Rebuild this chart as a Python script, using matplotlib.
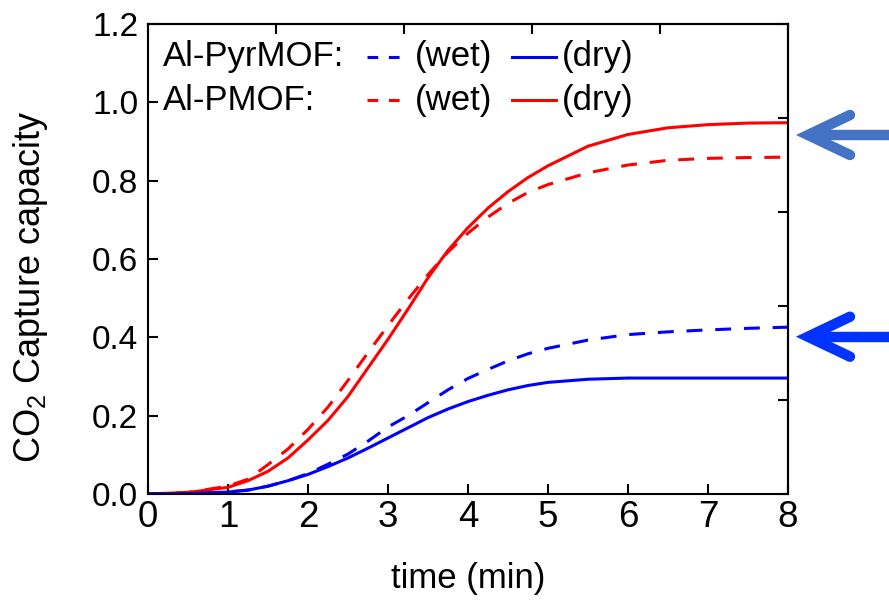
import numpy as np
import matplotlib
matplotlib.use('Agg')
import matplotlib.pyplot as plt
from matplotlib.lines import Line2D

plt.rcParams['font.family'] = ['Liberation Sans', 'DejaVu Sans']
plt.rcParams['mathtext.fontset'] = 'custom'
plt.rcParams['mathtext.rm'] = 'Liberation Sans'

# tempo (min)
t = [0.0, 0.5, 1.0, 1.25, 1.5, 1.75, 2.0, 2.25, 2.5, 2.75, 3.0, 3.25, 3.5,
     3.75, 4.0, 4.25, 4.5, 4.75, 5.0, 5.5, 6.0, 6.5, 7.0, 7.5, 8.0]

# capacidade de captura de CO2
pmof_dry = [0.0, 0.004, 0.017, 0.034, 0.058, 0.092, 0.138, 0.188, 0.249, 0.322,
            0.395, 0.472, 0.552, 0.622, 0.68, 0.73, 0.772, 0.808, 0.838, 0.888,
            0.918, 0.935, 0.943, 0.947, 0.948]
pmof_wet = [0.0, 0.004, 0.02, 0.038, 0.075, 0.115, 0.165, 0.222, 0.29, 0.361,
            0.43, 0.497, 0.56, 0.618, 0.666, 0.707, 0.742, 0.77, 0.79, 0.82,
            0.84, 0.852, 0.857, 0.859, 0.86]
pyr_dry = [0.0, 0.001, 0.005, 0.01, 0.02, 0.034, 0.05, 0.07, 0.092, 0.117,
           0.143, 0.169, 0.195, 0.217, 0.236, 0.252, 0.266, 0.277, 0.285, 0.293,
           0.296, 0.296, 0.296, 0.296, 0.296]
pyr_wet = [0.0, 0.001, 0.005, 0.01, 0.02, 0.034, 0.052, 0.076, 0.102, 0.135,
           0.171, 0.2, 0.233, 0.266, 0.295, 0.318, 0.34, 0.358, 0.372, 0.393,
           0.407, 0.414, 0.419, 0.423, 0.426]

azul = '#0000ff'
verm = '#ff0000'

fig = plt.figure(figsize=(8.89, 6.03), dpi=100)
ax = fig.add_axes([148/889, 1 - 494/603, 640/889, 470/603])

lw = 2.2
traco = (5.2, 4.2)
ax.plot(t, pmof_dry, color=verm, lw=lw)
ax.plot(t, pmof_wet, color=verm, lw=lw, dashes=traco)
ax.plot(t, pyr_dry, color=azul, lw=lw)
ax.plot(t, pyr_wet, color=azul, lw=lw, dashes=traco)

ax.set_xlim(0, 8)
ax.set_ylim(0, 1.2)
ax.set_xticks(np.arange(0, 9, 1))
ax.set_yticks(np.arange(0, 1.21, 0.2))
ax.set_yticklabels(['%.1f' % v for v in np.arange(0, 1.21, 0.2)])
ax.tick_params(direction='in', length=7, width=1.5)
ax.tick_params(axis='x', labelsize=26.5, pad=4)
ax.tick_params(axis='y', labelsize=24, pad=7)
for s in ax.spines.values():
    s.set_linewidth(1.5)

# eixos de cima e da direita com divisoes proprias
topo = ax.secondary_xaxis('top')
topo.set_xticks(np.arange(0, 8.01, 1.6))
topo.tick_params(direction='in', length=7, width=1.5, labeltop=False)
topo.spines['top'].set_linewidth(1.5)
dire = ax.secondary_yaxis('right')
dire.set_yticks(np.arange(0, 1.201, 0.24))
dire.tick_params(direction='in', length=7, width=1.5, labelright=False)
dire.spines['right'].set_linewidth(1.5)

ax.set_xlabel('time (min)', fontsize=25, labelpad=20)
ax.set_ylabel(r'CO$_\mathregular{2}$ Capture capacity', fontsize=26)
ax.yaxis.set_label_coords(-0.153, 0.44)

# legenda montada a mao
linhas = [('Al-PyrMOF:', azul, 0.930), ('Al-PMOF:', verm, 0.838)]
for nome, cor, yy in linhas:
    ax.text(0.0234, yy, nome, transform=ax.transAxes, fontsize=25, va='center')
    ax.add_line(Line2D([0.342, 0.394], [yy, yy], transform=ax.transAxes,
                       color=cor, lw=lw, dashes=(3.5, 3.5)))
    ax.text(0.417, yy, '(wet)', transform=ax.transAxes, fontsize=25, va='center')
    ax.add_line(Line2D([0.569, 0.6375], [yy, yy], transform=ax.transAxes,
                       color=cor, lw=lw))
    ax.text(0.647, yy, '(dry)', transform=ax.transAxes, fontsize=25, va='center')


# setas do lado direito
def seta(y_px, cor):
    W, H = 889, 603
    xp = 808
    yp = 1 - y_px / H
    fig.add_artist(Line2D([xp / W, 900 / W], [yp, yp], color=cor, lw=7.5,
                          solid_capstyle='butt'))
    fig.add_artist(Line2D([850 / W, xp / W, 850 / W],
                          [yp + 20 / H, yp, yp - 20 / H], color=cor, lw=7.5,
                          solid_capstyle='round', solid_joinstyle='miter'))


seta(135, '#4472c4')
seta(336.7, '#0033ff')

plt.savefig('out.png', dpi=100)
